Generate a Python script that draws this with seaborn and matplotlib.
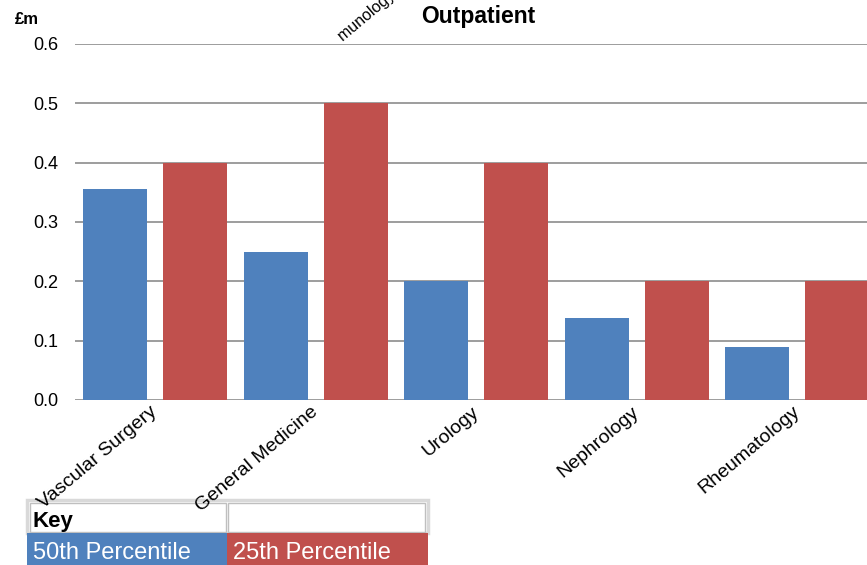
import pandas as pd
import matplotlib
matplotlib.use("Agg")
import matplotlib.pyplot as plt
import seaborn as sns
from matplotlib.patches import Rectangle

# data
categories = ["Vascular Surgery", "General Medicine", "Urology", "Nephrology", "Rheumatology"]
p50 = [0.355, 0.25, 0.2, 0.138, 0.09]
p25 = [0.4, 0.5, 0.4, 0.2, 0.2]
series_names = ["50th Percentile", "25th Percentile"]
colors = ["#4F81BD", "#C0504D"]
yticks = [0.0, 0.1, 0.2, 0.3, 0.4, 0.5, 0.6]

sns.set_theme(style="white")
plt.rcParams['font.family'] = ['Liberation Sans', 'DejaVu Sans']
plt.rcParams['text.color'] = 'black'

df = pd.DataFrame({
    "category": categories * 2,
    "value": p50 + p25,
    "series": [series_names[0]] * len(categories) + [series_names[1]] * len(categories),
})

W, H = 867, 565
fig = plt.figure(figsize=(W / 100, H / 100), dpi=100)
# plot area runs slightly past the right edge, as in the reference
ax = fig.add_axes([75 / W, (H - 400) / H, 802.5 / W, 356 / H])
ax.set_facecolor("none")

sns.barplot(data=df, x="category", y="value", hue="series", palette=colors,
            width=1.0, gap=0.2, saturation=1, ax=ax, legend=False, zorder=3,
            linewidth=0, edgecolor="none")

ax.set_xlim(-0.5, len(categories) - 0.5)
ax.set_ylim(0, 0.6)
ax.set_yticks(yticks)
ax.set_yticklabels([f"{t:.1f}" for t in yticks], fontsize=13, color="black")
ax.yaxis.grid(True, color="#8c8c8c", linewidth=1.2, zorder=0)
ax.tick_params(axis="y", length=0, pad=12)
ax.tick_params(axis="x", length=0, pad=7)
for s in ax.spines.values():
    s.set_visible(False)
ax.set_xlabel("")
ax.set_ylabel("")
ax.set_xticks(range(len(categories)))
ax.set_xticklabels(categories, rotation=40, ha="right", va="center",
                   rotation_mode="anchor", fontsize=14, color="black")

fig.text(478 / W, 1 - 16 / H, "Outpatient", fontsize=16.5, fontweight="bold",
         ha="center", va="center", color="black")
fig.text(15 / W, 1 - 20 / H, "£m", fontsize=12, fontweight="bold",
         ha="left", va="center", color="black")
# stray rotated label peeking in above the plot
fig.text(343 / W, 1 - 42 / H, "munology, Allergy", fontsize=11.5, rotation=40,
         ha="left", va="baseline", rotation_mode="anchor", color="black")

# key table at the bottom left, drawn beneath the axes so tick labels show over it
tx0, tx1, tx2 = 27, 227, 428
ry0, ry1, ry2 = 500, 533, 575
def box(x0, y0, x1, y1, **kw):
    fig.add_artist(Rectangle((x0 / W, 1 - y1 / H), (x1 - x0) / W, (y1 - y0) / H,
                             transform=fig.transFigure, zorder=-1, **kw))
box(tx0, ry0, tx2, ry1, facecolor="white", edgecolor="#d9d9d9", linewidth=2.5)
box(tx0 + 3, ry0 + 3, tx1 - 1, ry1 - 1, facecolor="white", edgecolor="#bfbfbf", linewidth=1)
box(tx1 + 1, ry0 + 3, tx2 - 3, ry1 - 1, facecolor="white", edgecolor="#bfbfbf", linewidth=1)
box(tx0, ry1, tx1, ry2, facecolor=colors[0], edgecolor="none")
box(tx1, ry1, tx2, ry2, facecolor=colors[1], edgecolor="none")
fig.text(33 / W, 1 - 521 / H, "Key", fontsize=16, fontweight="bold", ha="left", va="center")
fig.text(33 / W, 1 - 553 / H, series_names[0], fontsize=17, color="white", ha="left", va="center")
fig.text(233 / W, 1 - 553 / H, series_names[1], fontsize=17, color="white", ha="left", va="center")

fig.savefig("out.png", dpi=100)
